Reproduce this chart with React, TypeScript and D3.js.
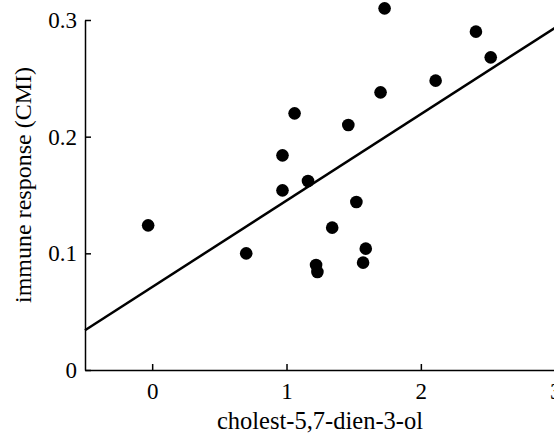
import React, { useRef, useEffect } from 'react';
import * as d3 from 'd3';

// cholest-5,7-dien-3-ol vs immune response (CMI)
const cholest = [-0.03, 0.70, 0.97, 0.97, 1.06, 1.16, 1.22, 1.23, 1.34, 1.46, 1.52, 1.57, 1.59, 1.70, 1.73, 2.11, 2.41, 2.52];
const cmi = [0.124, 0.100, 0.184, 0.154, 0.220, 0.162, 0.090, 0.084, 0.122, 0.210, 0.144, 0.092, 0.104, 0.238, 0.310, 0.248, 0.290, 0.268];

// fitted line
const fitIntercept = 0.0711;
const fitSlope = 0.0741;

const xTicks = [0, 1, 2, 3];
const yTicks = [0, 0.1, 0.2, 0.3];

export default function App() {
  const ref = useRef<SVGSVGElement>(null);

  useEffect(() => {
    const width = 554;
    const height = 435;
    const svg = d3.select(ref.current);
    svg.selectAll('*').remove();
    svg.attr('width', width).attr('height', height);

    const x = d3.scaleLinear().domain([-0.5, 3]).range([85, 555.2]);
    const y = d3.scaleLinear().domain([0, 0.3]).range([370, 20]);
    const font = '"Liberation Serif", "Times New Roman", serif';

    const g = svg.append('g');

    // axes
    const xAxis = g.append('g')
      .attr('transform', `translate(0, ${y(0)})`)
      .call(d3.axisBottom(x).tickValues(xTicks).tickSizeInner(-6).tickSizeOuter(0).tickPadding(13).tickFormat(d3.format('d')));
    const yAxis = g.append('g')
      .attr('transform', `translate(${x(-0.5)}, 0)`)
      .call(d3.axisLeft(y).tickValues(yTicks).tickSizeInner(-6).tickSizeOuter(0).tickPadding(8)
        .tickFormat(d => (d === 0 ? '0' : d3.format('.1f')(d as number))));

    [xAxis, yAxis].forEach(a => {
      a.select('.domain').attr('stroke', '#000').attr('stroke-width', 1.5);
      a.selectAll('.tick line').attr('stroke', '#000').attr('stroke-width', 1.5);
      a.selectAll('.tick text').attr('fill', '#000').style('font-family', font).style('font-size', '23px');
    });

    // regression line
    const xd = x.domain();
    g.append('line')
      .attr('x1', x(xd[0])).attr('y1', y(fitIntercept + fitSlope * xd[0]))
      .attr('x2', x(xd[1])).attr('y2', y(fitIntercept + fitSlope * xd[1]))
      .attr('stroke', '#000').attr('stroke-width', 2.5);

    // points
    g.selectAll('.dot')
      .data(cholest)
      .enter()
      .append('circle')
      .attr('class', 'dot')
      .attr('cx', d => x(d))
      .attr('cy', (d, i) => y(cmi[i]))
      .attr('r', 6.3)
      .attr('fill', '#000');

    // axis titles
    g.append('text')
      .attr('x', 320).attr('y', 429)
      .attr('text-anchor', 'middle')
      .style('font-family', font).style('font-size', '24.5px')
      .text('cholest-5,7-dien-3-ol');

    g.append('text')
      .attr('transform', `translate(31, 185) rotate(-90)`)
      .attr('text-anchor', 'middle')
      .style('font-family', font).style('font-size', '24px')
      .text('immune response (CMI)');
  }, []);

  return (
    <div className='ScatterChart'>
      <svg ref={ref} style={{ position: 'absolute', left: 0, top: 0 }}></svg>
    </div>
  );
}
